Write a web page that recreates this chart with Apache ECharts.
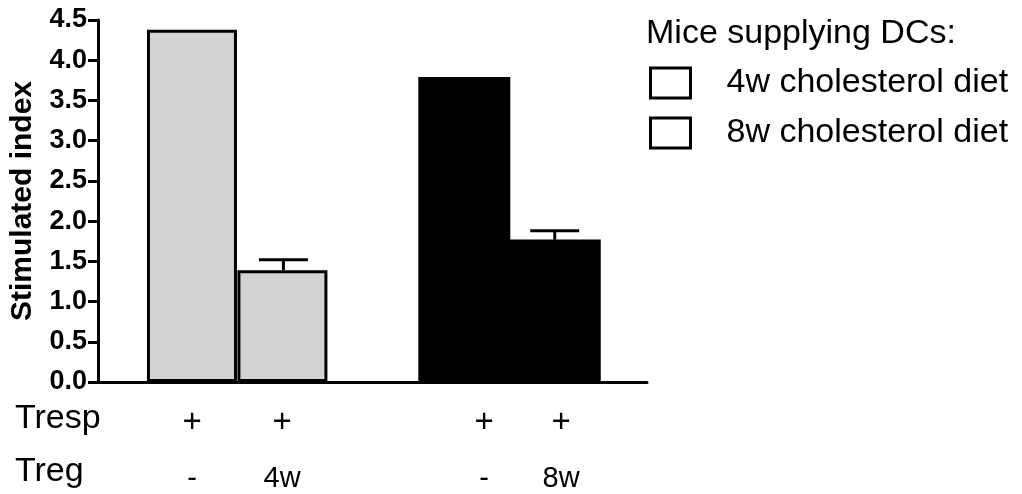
<!DOCTYPE html>
<html>
<head>
<meta charset="utf-8">
<script src="https://cdn.jsdelivr.net/npm/echarts@6/dist/echarts.min.js"></script>
<style>
  html, body { margin: 0; padding: 0; background: #fff; }
  #chart { width: 1022px; height: 494px; }
</style>
</head>
<body>
<div id="chart"></div>
<script>
// data
const groupNames = ['4w cholesterol diet', '8w cholesterol diet']
const barPos4w = [0, 1]
const barPos8w = [3, 4]
const mean4w = [4.38, 1.39]
const sem4w = [0, 0.13]
const mean8w = [3.79, 1.77]
const sem8w = [0, 0.11]
const trespRow = ['+', '+', '+', '+']
const tregRow = ['-', '4w', '-', '8w']
const yMin = 0
const yMax = 4.5
const yStep = 0.5

// where the +/- labels sit (slightly off the bars in the original)
const labelAt = [-0.01, 0.985, 3.22, 4.07]

const FONT = "'Liberation Sans', Arial, sans-serif"
const chart = echarts.init(document.getElementById('chart'))

const errData = []
barPos4w.forEach((x, i) => { if (sem4w[i]) errData.push([x, mean4w[i], mean4w[i] + sem4w[i]]) })
barPos8w.forEach((x, i) => { if (sem8w[i]) errData.push([x, mean8w[i], mean8w[i] + sem8w[i]]) })

const option = {
  animation: false,
  textStyle: { fontFamily: FONT, color: '#000' },
  title: {
    text: 'Mice supplying DCs:',
    left: 646,
    top: 17,
    padding: 0,
    textStyle: { fontFamily: FONT, fontSize: 34, fontWeight: 'normal', color: '#000' },
  },
  legend: {
    data: groupNames,
    orient: 'vertical',
    left: 649,
    top: 66,
    padding: 0,
    itemWidth: 40,
    itemHeight: 30,
    itemGap: 16,
    icon: 'rect',
    selectedMode: false,
    itemStyle: { color: '#fff', borderColor: '#000', borderWidth: 3 },
    textStyle: { fontFamily: FONT, fontSize: 34, color: '#000', padding: [0, 0, 0, 31] },
  },
  grid: { left: 98, right: 375, top: 20, bottom: 112, containLabel: false, outerBoundsMode: 'none' },
  xAxis: {
    type: 'value',
    min: -1.05,
    max: 5.02,
    splitLine: { show: false },
    axisTick: { show: false },
    axisLine: { show: true, onZero: false, lineStyle: { color: '#000', width: 3 } },
    axisLabel: {
      customValues: labelAt,
      margin: 13,
      formatter: (v, idx) => {
        const i = labelAt.indexOf(v) >= 0 ? labelAt.indexOf(v) : idx
        return '{p|' + trespRow[i] + '}\n{m|' + tregRow[i] + '}'
      },
      rich: {
        p: { fontFamily: FONT, fontSize: 33, lineHeight: 56, color: '#000' },
        m: { fontFamily: FONT, fontSize: 29, lineHeight: 56, color: '#000' },
      },
    },
  },
  yAxis: {
    type: 'value',
    min: yMin,
    max: yMax,
    interval: yStep,
    name: 'Stimulated index',
    nameLocation: 'middle',
    nameRotate: 90,
    nameGap: 60,
    nameTextStyle: { fontFamily: FONT, fontSize: 30, fontWeight: 'bold', color: '#000' },
    splitLine: { show: false },
    axisLine: { show: true, onZero: false, lineStyle: { color: '#000', width: 3 } },
    axisTick: { show: true, length: 10, lineStyle: { color: '#000', width: 3 } },
    axisLabel: {
      margin: 11,
      fontFamily: FONT,
      fontSize: 27,
      fontWeight: 'bold',
      color: '#000',
      formatter: (v) => v.toFixed(1),
    },
  },
  graphic: [
    { type: 'text', x: 15, y: 419, style: { text: 'Tresp', fontSize: 34, fontFamily: FONT, fill: '#000', verticalAlign: 'middle' } },
    { type: 'text', x: 15, y: 472, style: { text: 'Treg', fontSize: 34, fontFamily: FONT, fill: '#000', verticalAlign: 'middle' } },
  ],
  series: [
    {
      name: groupNames[0],
      type: 'bar',
      barWidth: 90,
      barGap: '-100%',
      data: barPos4w.map((x, i) => [x, mean4w[i]]),
      itemStyle: { color: '#d3d3d3', borderColor: '#000', borderWidth: 3 },
    },
    {
      name: groupNames[1],
      type: 'bar',
      barWidth: 92,
      barGap: '-100%',
      data: barPos8w.map((x, i) => [x, mean8w[i]]),
      itemStyle: { color: '#000', borderColor: '#000', borderWidth: 3 },
    },
    {
      type: 'custom',
      z: 5,
      data: errData,
      renderItem: (params, api) => {
        const base = api.coord([api.value(0), api.value(1)])
        const top = api.coord([api.value(0), api.value(2)])
        const half = 24.5
        const style = { stroke: '#000', lineWidth: 3 }
        return {
          type: 'group',
          children: [
            { type: 'line', shape: { x1: base[0], y1: base[1], x2: top[0], y2: top[1] }, style },
            { type: 'line', shape: { x1: top[0] - half, y1: top[1], x2: top[0] + half, y2: top[1] }, style },
          ],
        }
      },
    },
  ],
}

chart.setOption(option)
</script>
</body>
</html>
